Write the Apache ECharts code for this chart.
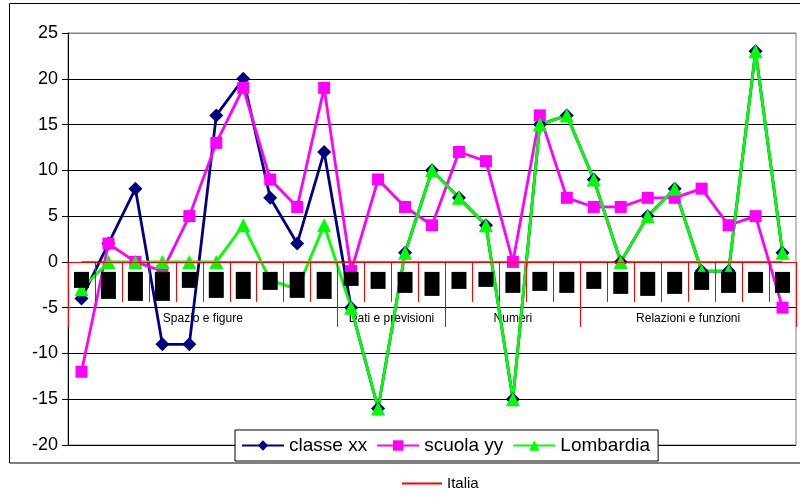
<!DOCTYPE html>
<html><head><meta charset="utf-8">
<script src="https://cdn.jsdelivr.net/npm/echarts@6/dist/echarts.min.js"></script>
<style>html,body{margin:0;padding:0;background:#fff}#c{width:800px;height:497px}</style>
</head><body><div id="c"></div>
<script>
// ---- data ----
const categories = ['SF1','SF2','SF3','SF4','SF5','SF6','SF7','SF8','SF9','SF10',
  'DP1','DP2','DP3','DP4','N1','N2','N3','N4','N5',
  'RF1','RF2','RF3','RF4','RF5','RF6','RF7','RF8'];
const groupNames = ['Spazio e figure','Dati e previsioni','Numeri','Relazioni e funzioni'];
const groupSizes = [10,4,5,8];
const classeXX  = [-4,2,8,-9,-9,16,20,7,2,12,-5,-16,1,10,7,4,-15,15,16,9,0,5,8,-1,-1,23,1];
const scuolaYY  = [-12,2,0,-1,5,13,19,9,6,19,-1,9,6,4,12,11,0,16,7,6,6,7,7,8,4,5,-5];
const lombardia = [-3,0,0,0,0,0,4,-2,-3,4,-5,-16,1,10,7,4,-15,15,16,9,0,5,8,-1,-1,23,1];
const italia    = [0,0,0,0,0,0,0,0,0,0,0,0,0,0,0,0,0,0,0,0,0,0,0,0,0,0,0];
const yMin = -20, yMax = 25, yStep = 5;

// ---- styles / layout ----
const FONT = 'Liberation Sans, Arial, sans-serif';
const GRID = {left:68, right:4, top:33, bottom:52};
const plotH = 497 - GRID.top - GRID.bottom;
const zeroOffset = -plotH * (0 - yMin) / (yMax - yMin);   // lift category axis to y = 0
const labelBoxH = [16,27,29,29,16,26,27,18,26,27,14,17,21,24,17,15,21,19,21,17,22,24,22,18,21,21,21];

const rich = {};
labelBoxH.forEach((h,i)=>{ rich['b'+i] = {width:15, height:h, lineHeight:h, backgroundColor:'#000', color:'#000', fontSize:2}; });

const groupBounds = [0];
groupSizes.forEach(s => groupBounds.push(groupBounds[groupBounds.length-1] + s));
const groupCenters = groupSizes.map((s,i) => (groupBounds[i] + groupBounds[i+1]) / 2);

const nLines = (yMax - yMin) / yStep + 1;
const splitColors = [];
for (let k = 0; k < nLines; k++) splitColors.push(k === nLines - 1 ? '#808080' : '#000');

const chart = echarts.init(document.getElementById('c'), null, {renderer:'canvas'});
chart.setOption({
  animation:false,
  backgroundColor:'#fff',
  textStyle:{fontFamily:FONT},
  graphic:[{type:'rect', z:-10, shape:{x:9.5,y:3.5,width:800,height:459.5}, style:{fill:'none', stroke:'#000', lineWidth:1}}],
  grid:Object.assign({show:true, borderColor:'#808080', borderWidth:1, backgroundColor:'transparent'}, GRID),
  legend:[
    {data:['classe xx','scuola yy','Lombardia'], left:235, top:430, orient:'horizontal',
     itemWidth:42, itemHeight:13, itemGap:9, padding:[6,8,6,6],
     borderColor:'#000', borderWidth:1, backgroundColor:'#fff',
     textStyle:{fontSize:19, color:'#000', fontFamily:FONT}},
    {data:['Italia'], left:401, top:476, itemWidth:40, itemHeight:10, padding:0,
     itemStyle:{color:'transparent', borderWidth:0},
     textStyle:{fontSize:15, color:'#000', fontFamily:FONT}}
  ],
  xAxis:[
    {type:'category', data:categories, boundaryGap:true, position:'bottom', offset:zeroOffset, z:3,
     axisLine:{show:true, onZero:false, lineStyle:{color:'#ff0000', width:1}},
     axisTick:{show:true, length:40, interval:0, lineStyle:{color:'#ff0000', width:1}},
     axisLabel:{interval:0, margin:10, formatter:(v,i)=>'{b'+i+'| }', rich:rich},
     splitLine:{show:false}},
    {type:'value', min:0, max:categories.length, position:'bottom', offset:zeroOffset,
     axisLine:{show:false, onZero:false},
     splitLine:{show:false},
     axisTick:{show:true, customValues:groupBounds, length:65, lineStyle:{color:'#ff0000', width:1}},
     axisLabel:{show:true, customValues:groupCenters, margin:51, fontSize:12, color:'#000', fontFamily:FONT,
       formatter:(v)=>{ const k = groupCenters.indexOf(v); return k>=0 ? groupNames[k] : ''; }}}
  ],
  yAxis:{type:'value', min:yMin, max:yMax, interval:yStep,
    axisLine:{show:true, onZero:false, lineStyle:{color:'#000', width:1}},
    axisTick:{show:true, length:6, lineStyle:{color:'#000'}},
    axisLabel:{fontSize:18, color:'#000', margin:10, fontFamily:FONT},
    splitLine:{show:true, lineStyle:{color:splitColors, width:1}}},
  series:[
    {name:'Italia', type:'line', data:italia, symbol:'none', z:1,
     lineStyle:{color:'#ff0000', width:1.5}, itemStyle:{color:'#ff0000'}},
    {name:'classe xx', type:'line', data:classeXX, symbol:'diamond', symbolSize:14, z:2,
     lineStyle:{color:'#000080', width:2.8}, itemStyle:{color:'#000080'}},
    {name:'scuola yy', type:'line', data:scuolaYY, symbol:'rect', symbolSize:12, z:2,
     lineStyle:{color:'#ff00ff', width:2.8}, itemStyle:{color:'#ff00ff'}},
    {name:'Lombardia', type:'line', data:lombardia, symbol:'triangle', symbolSize:14, z:2,
     lineStyle:{color:'#00ff00', width:2.8}, itemStyle:{color:'#00ff00'}}
  ]
});
</script></body></html>
